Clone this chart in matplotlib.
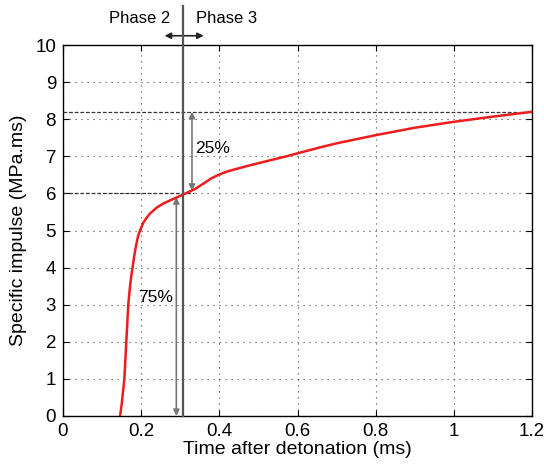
import matplotlib.pyplot as plt

plt.rcParams['font.family'] = ['Liberation Sans', 'DejaVu Sans']

# specific impulse curve
time_ms = [0.146, 0.150, 0.153, 0.157, 0.160, 0.163, 0.167, 0.171, 0.175, 0.178,
           0.182, 0.187, 0.192, 0.197, 0.205, 0.213, 0.223, 0.24, 0.257, 0.282,
           0.31, 0.338, 0.363, 0.38, 0.4, 0.42, 0.44, 0.483, 0.525, 0.568, 0.6,
           0.65, 0.7, 0.8, 0.9, 1.0, 1.1, 1.2]
impulse = [0.0, 0.3, 0.6, 1.0, 1.6, 2.2, 3.0, 3.45, 3.8, 4.0,
           4.3, 4.6, 4.85, 5.0, 5.2, 5.33, 5.46, 5.62, 5.73, 5.85,
           5.98, 6.12, 6.29, 6.41, 6.51, 6.59, 6.65, 6.77, 6.88, 6.99, 7.08,
           7.22, 7.35, 7.57, 7.77, 7.93, 8.07, 8.2]

phase_split = 0.307
level_mid = 6.0
level_end = 8.2
x_ticks = [0, 0.2, 0.4, 0.6, 0.8, 1, 1.2]
x_tick_labels = ['0', '0.2', '0.4', '0.6', '0.8', '1', '1.2']
y_ticks = list(range(0, 11))

fig = plt.figure(figsize=(5.44, 4.66), dpi=100)
ax = fig.add_axes([0.1158, 0.1073, 0.8622, 0.7961])

ax.plot(time_ms, impulse, color='#ee1c1c', lw=1.8, zorder=4)

ax.set_xlim(0, 1.2)
ax.set_ylim(0, 10)
ax.set_xticks(x_ticks)
ax.set_xticklabels(x_tick_labels)
ax.set_yticks(y_ticks)
ax.grid(True, linestyle=(0, (1, 4.4)), color='#444444', lw=0.8)
ax.tick_params(direction='in', top=True, right=True, labelsize=13.5, length=4, pad=5)
for s in ax.spines.values():
    s.set_linewidth(1.0)
ax.set_xlabel('Time after detonation (ms)', fontsize=14, labelpad=1)
ax.set_ylabel('Specific impulse (MPa.ms)', fontsize=14, labelpad=6)

# reference levels
ax.plot([0, 1.2], [level_end, level_end], color='#333333', ls=(0, (3, 1.5)), lw=0.9, zorder=3)
ax.plot([0, 0.335], [level_mid, level_mid], color='#333333', ls=(0, (3, 1.5)), lw=0.9, zorder=3)

# phase boundary, running above the axes
ax.plot([phase_split, phase_split], [0, 11.05], color='#555555', lw=1.6,
        clip_on=False, zorder=5)

arrow = dict(arrowstyle='<|-|>', color='#777777', lw=1.2, mutation_scale=9,
             shrinkA=0, shrinkB=0)
ax.annotate('', xy=(0.29, 0), xytext=(0.29, 5.9), arrowprops=arrow)
ax.annotate('', xy=(0.33, 6.07), xytext=(0.33, level_end), arrowprops=arrow)
ax.annotate('', xy=(0.26, 10.25), xytext=(0.36, 10.25), arrowprops=dict(arrow, color='#222222'),
            annotation_clip=False)

ax.text(0.337, 7.22, '25%', fontsize=12.5, va='center')
ax.text(0.192, 3.2, '75%', fontsize=12.5, va='center')
ax.text(phase_split - 0.033, 10.72, 'Phase 2', fontsize=12, ha='right', va='center')
ax.text(phase_split + 0.033, 10.72, 'Phase 3', fontsize=12, ha='left', va='center')

fig.savefig('out.png', dpi=100)
